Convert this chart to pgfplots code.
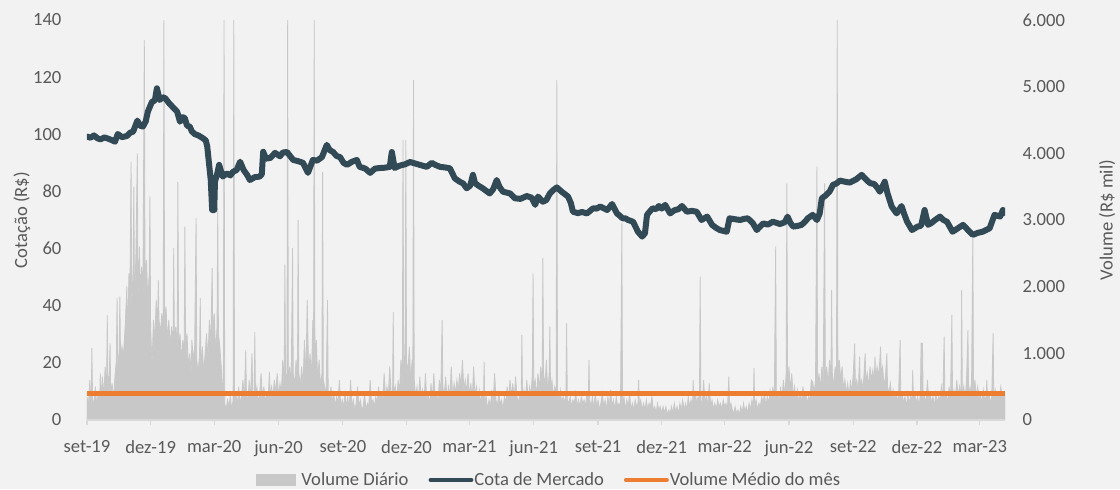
\documentclass[border=0pt]{standalone}
\usepackage{fontspec}
\setmainfont{Carlito}
\usepackage{pgfplots}
\pgfplotsset{compat=1.18}
\definecolor{bgc}{RGB}{242,242,242}
\definecolor{volgray}{RGB}{200,200,200}
\definecolor{cota}{RGB}{50,73,86}
\definecolor{orangec}{RGB}{237,125,49}
\definecolor{txt}{RGB}{89,89,89}
\definecolor{axl}{RGB}{217,217,217}
\begin{document}
\fontsize{9.3pt}{11pt}\selectfont
\begin{tikzpicture}
\fill[bgc] (-43.5pt,-34.5pt) rectangle (516.5pt,210pt);
\path[use as bounding box] (-43.5pt,-34.5pt) rectangle (516.5pt,210pt);
\pgfplotsset{
  common/.style={
    scale only axis, width=459pt, height=200pt,
    xmin=0, xmax=1313,
    font=\fontsize{9.3pt}{11pt}\selectfont,
    tick label style={text=txt, font=\fontsize{9.3pt}{11pt}\selectfont},
    label style={text=txt, font=\fontsize{9.3pt}{11pt}\selectfont},
    /pgf/number format/assume math mode=true,
    scaled y ticks=false,
    clip=true,
  }
}
% Volume axis (right)
\begin{axis}[common,
  axis x line=none,
  axis y line*=right,
  y axis line style={draw=none},
  ytick style={draw=none},
  ymin=0, ymax=6000,
  ytick={0,1000,2000,3000,4000,5000,6000},
  /pgf/number format/1000 sep={.},
  /pgf/number format/fixed,
  yticklabel style={anchor=west, xshift=5.5pt},
  ylabel={Volume (R\$ mil)},
  every axis y label/.style={at={(axis description cs:1,0.5)}, xshift=51pt, rotate=90, anchor=center, text=txt, font=\fontsize{9.3pt}{11pt}\selectfont},
]
\addplot[fill=volgray, draw=volgray, line width=0.4pt] coordinates {
(0,350) (2,200) (4,600) (6,150) (7,1080) (8,300) (10,250) (12,500) (14,200) (16,400) (18,250) (19,700)
(20,300) (22,650) (24,350) (26,800) (28,400) (29,1575) (30,450) (32,700) (33,1150) (34,350) (36,550) (38,300) (40,650)
(42,900) (43,1830) (44,800) (46,1000) (47,1850) (48,900) (50,1100) (52,950) (54,1300)
(55,1500) (57,2000) (58,1200) (60,2200) (61,1400) (63,3870) (64,1600) (66,2300) (67,3500) (68,1700) (70,2500) (72,4000) (73,1800) (75,2600) (76,1900)
(78,2300) (80,2000) (82,5700) (83,2100) (85,2400) (87,1800) (89,2200) (90,3350) (91,1400)
(93,800) (95,1500) (97,1200) (99,1800) (101,1400) (102,2100) (103,1500)
(105,1300) (107,1600) (109,1400) (110,6000) (111,1500) (113,1700) (115,1200) (117,1500) (119,1100) (121,1400) (123,1000) (124,2580) (125,1200) (127,1400) (129,1000) (130,3570) (131,1100) (133,1300) (135,900) (137,1200) (139,1000) (140,2900) (141,1100)
(143,1300) (145,800) (147,1000) (149,700) (150,1200) (152,900) (154,1100) (156,3030) (157,900) (159,700) (161,1000) (162,1830) (163,800) (165,1100) (167,700) (169,1000)
(171,1300) (173,900) (175,1500) (177,1100) (179,2280) (180,1200) (182,1600) (184,1000) (186,1400) (187,3180) (188,1300) (190,1100) (192,800) (194,400)
(195,300) (196,6000) (197,250) (199,150) (201,300) (203,200) (205,350) (207,150) (209,300) (210,6000) (211,250) (213,400) (215,200) (217,500) (219,250) (221,350)
(223,600) (225,300) (227,1050) (228,400) (230,250) (232,600) (234,300) (236,1000) (237,400) (239,300) (240,1320) (241,350) (243,500) (245,250) (247,400) (249,700) (251,300) (253,500) (255,250) (257,400) (259,300) (261,720) (262,350)
(264,500) (266,350) (268,600) (270,400) (272,700) (274,350) (276,550) (278,400) (280,900) (282,500) (283,2330) (284,600) (286,700) (287,6000) (288,600) (290,800) (292,500) (294,2580) (295,700) (297,500) (299,900) (301,600) (302,3000) (303,700) (305,500)
(307,800) (309,500) (311,1200) (313,600) (315,1800) (317,700) (319,1000) (321,600) (323,1500) (324,700) (325,6000) (326,800) (328,1200) (330,600) (332,900) (334,500) (336,700) (337,3720) (338,600)
(340,500) (342,350) (344,1800) (345,400) (347,300) (349,500) (351,250) (353,400) (355,200) (357,350) (359,250) (361,600) (363,200) (365,300) (367,200) (369,400)
(371,200) (373,350) (375,150) (377,600) (379,200) (381,300) (383,150) (385,250) (387,500) (389,200) (391,300) (393,150) (395,200) (397,400) (399,150) (401,250) (403,200) (405,600) (407,250) (409,300) (411,200) (413,350) (415,250) (417,500) (419,300) (421,400) (423,250) (425,700) (427,300) (429,500) (431,350) (433,800)
(435,400) (437,300) (438,1620) (439,350) (441,500) (443,300) (445,600) (447,400) (449,900) (451,500) (452,4200) (453,800) (455,1000) (456,4200) (457,900) (459,700) (461,1100) (463,600) (465,900) (466,500) (467,5100) (468,600)
(470,350) (472,500) (474,250) (476,650) (478,300) (480,450) (482,250) (484,700) (486,300) (488,400) (490,200) (492,550) (494,300) (496,700) (498,350) (500,400) (502,250) (504,600) (506,400) (508,1500) (509,500) (511,350) (513,650) (515,300) (517,500) (519,350) (521,800) (523,300) (525,550) (527,400) (529,600) (531,450) (533,700) (535,500) (537,900) (539,450) (541,600) (543,400) (545,700) (547,350) (549,550) (551,300) (553,800) (555,350) (557,500) (559,300) (561,450)
(563,250) (565,400) (567,200) (568,870) (569,250) (571,350) (573,150) (575,300) (577,200) (579,450) (581,250) (583,700) (585,300) (587,200) (589,400) (591,250) (593,300) (595,150) (597,350) (599,250) (601,500) (603,300) (605,600) (607,350) (609,550) (611,300) (613,650) (615,350) (617,250) (619,400) (621,300) (622,1275) (623,300)
(625,450) (627,250) (629,600) (631,300) (633,500) (635,350) (637,700) (638,2200) (639,500) (641,600) (643,350) (645,700) (647,450) (649,800) (651,500) (652,2430) (653,700) (655,500) (657,900) (659,400) (661,700) (662,1400) (663,450) (665,600) (667,350) (669,500) (671,400) (672,5100) (673,400) (675,300) (677,450) (679,250) (681,350) (683,250) (685,400) (686,1450) (687,300) (689,250) (691,350) (693,200) (695,300) (697,250) (699,400) (701,200) (703,300) (705,200) (707,350) (709,250) (711,300) (713,200) (715,400) (717,300) (718,900) (719,300)
(721,200) (723,350) (725,150) (727,400) (729,200) (731,300) (733,150) (735,250) (737,400) (739,200) (741,300) (743,150) (745,350) (747,200) (749,450) (751,200) (753,300) (755,150) (757,350) (759,200) (761,250) (763,150) (765,2950) (766,200) (768,350) (770,150) (772,300) (774,200) (776,400) (778,150) (780,250) (782,150) (784,300) (786,200) (788,250) (789,600) (790,200) (792,300) (794,150) (796,250) (798,150) (800,300) (802,150) (804,250) (806,200) (808,350) (810,150) (812,200) (814,100) (816,250) (818,150) (820,200) (822,100) (824,200)
(826,100) (828,200) (830,80) (832,150) (834,100) (836,200) (838,100) (840,250) (842,120) (844,200) (846,100) (848,250) (850,150) (852,300) (854,150) (856,250) (858,150) (860,350) (862,200) (864,300) (866,200) (867,600) (868,250) (870,400) (872,250) (874,350) (876,300) (877,2150) (878,300)
(880,250) (882,600) (884,200) (886,400) (888,150) (890,550) (892,200) (894,300) (896,150) (898,250) (900,150) (902,300) (904,200) (906,250) (908,150) (910,300) (912,200) (914,250) (916,150) (918,650) (919,200) (921,250)
(923,150) (925,100) (927,200) (929,100) (931,150) (933,80) (935,200) (937,100) (939,250) (941,120) (943,200) (945,100) (947,250) (949,150) (951,300) (953,200) (954,780) (955,200) (957,300) (959,150) (961,250) (963,200) (965,350)
(967,250) (969,400) (971,200) (973,350) (975,250) (977,450) (979,300) (981,500) (983,250) (985,2600) (986,300) (988,400) (990,250) (992,500) (994,300) (996,600) (998,350) (1000,700) (1001,3550) (1002,500) (1004,800) (1006,450) (1008,700) (1010,350) (1012,500) (1014,300) (1016,450) (1018,250) (1020,400) (1022,250) (1024,500) (1026,300) (1028,400) (1030,250) (1032,350) (1034,300) (1036,600)
(1038,570) (1040,400) (1042,600) (1044,3800) (1045,500) (1047,700) (1049,450) (1051,800) (1053,500) (1055,3550) (1056,600) (1058,800) (1060,500) (1062,900) (1064,600) (1065,1950) (1066,700) (1068,500) (1070,800) (1072,600) (1073,6000) (1074,700) (1076,900) (1078,600) (1080,800) (1082,450) (1084,600) (1086,400) (1088,550) (1090,350) (1092,600) (1094,400) (1096,700) (1098,1150) (1099,500) (1101,600) (1103,400) (1105,950) (1106,500) (1108,600) (1110,450) (1113,1000) (1114,550) (1116,700) (1118,500) (1120,800) (1122,600) (1124,750) (1126,550) (1127,950) (1128,600) (1130,800) (1132,650) (1134,900) (1135,1100) (1136,700) (1138,800) (1140,500) (1142,650) (1144,1000) (1145,500) (1147,400) (1149,550) (1151,350) (1153,450) (1155,300)
(1157,400) (1159,250) (1161,450) (1163,1200) (1164,300) (1166,400) (1168,250) (1170,350) (1172,200) (1174,400) (1176,250) (1178,350) (1180,300) (1181,750) (1182,300) (1184,400) (1186,250) (1188,350) (1190,200) (1192,400) (1193,1150) (1195,1150) (1196,300) (1198,350) (1200,250) (1202,600) (1204,300) (1206,400) (1208,250) (1210,350) (1212,200) (1214,400) (1216,250) (1218,350) (1220,300) (1222,500) (1224,300) (1226,1250) (1227,300) (1229,400) (1231,250) (1233,500) (1235,300) (1237,1575) (1238,350) (1240,450) (1242,300) (1244,600) (1246,350) (1248,500) (1250,300) (1251,1950) (1252,350) (1254,500) (1256,300) (1258,600) (1260,1350) (1261,350) (1263,500) (1265,350) (1267,2800) (1268,400) (1270,600) (1272,350) (1274,500) (1276,300) (1278,400) (1280,250) (1282,450) (1284,300) (1286,350) (1287,600) (1288,300) (1290,400) (1292,250) (1294,350) (1296,1300) (1297,300) (1299,450) (1301,300) (1303,400) (1305,350) (1307,500) (1309,300) (1311,400) (1313,350)
} \closedcycle;
\addplot[orangec, line width=2.5pt] coordinates {(0,400) (1313,400)};
\end{axis}
% Price axis (left)
\begin{axis}[common,
  axis x line*=bottom,
  axis y line*=left,
  y axis line style={draw=none},
  ytick style={draw=none},
  x axis line style={draw=axl, line width=0.6pt},
  xtick style={draw=axl, line width=0.6pt},
  tick align=outside,
  major tick length=2.5pt,
  ymin=0, ymax=140,
  ytick={0,20,40,60,80,100,120,140},
  yticklabel style={anchor=east, xshift=-7pt},
  xtick={0,91,182,274,366,457,547,639,731,822,912,1004,1096,1187,1277},
  xticklabels={set-19,dez-19,mar-20,jun-20,set-20,dez-20,mar-21,jun-21,set-21,dez-21,mar-22,jun-22,set-22,dez-22,mar-23},
  xticklabel style={anchor=north, yshift=-4.5pt},
  ylabel={Cotação (R\$)},
  every axis y label/.style={at={(axis description cs:0,0.5)}, xshift=-32.5pt, rotate=90, anchor=center, text=txt, font=\fontsize{9.3pt}{11pt}\selectfont},
  legend style={at={(0.502,-0.15)}, anchor=center, legend columns=3, draw=none, fill=none,
    text=txt, font=\fontsize{9.3pt}{11pt}\selectfont,
    nodes={inner sep=0pt},
    /tikz/every odd column/.append style={column sep=0.5pt},
    /tikz/every even column/.append style={column sep=10pt},
    inner sep=0pt},
  legend cell align=left,
]
\addlegendimage{legend image code/.code={\fill[volgray] (0pt,-2.8pt) rectangle (19.5pt,2.8pt); \path[draw=none,fill=none] (0pt,0pt) -- (22.25pt,0pt);}}
\addlegendentry{Volume Diário}
\addplot[cota, line width=3pt, line join=round, line cap=round,
  legend image code/.code={\draw[cota, line width=1.9pt, line cap=round] (1pt,0pt) -- (21.5pt,0pt);}] coordinates {
(0,99.2) (5,98.8) (10,99.6) (15,98.6) (19,98.2) (25,98.9) (30,98.5) (36,97.9) (40,97.4) (44,100.1) (50,99.0) (57,99.4) (62,100.6) (66,100.9) (72,104.8) (76,103.0) (80,102.7) (84,104.5) (87,107.9) (93,111.4) (97,111.8) (100,116.1) (104,112.0) (108,113.0) (112,112.6) (117,111.0) (122,109.7) (129,107.9) (133,104.4) (137,106.0) (140,105.6) (143,103.0) (147,102.7) (150,101.0) (154,100.1) (160,99.5) (166,98.6) (170,97.8) (172,95.7) (174,91.0) (177,84.0) (179,73.5) (182,73.5) (183,83.4) (186,86.0) (189,89.3) (194,85.2) (200,86.3) (205,85.6) (209,86.9) (214,87.5) (219,90.4) (224,87.5) (229,85.8) (233,84.0) (240,85.0) (247,85.2) (250,86.0) (252,93.9) (256,91.5) (262,91.7) (269,93.5) (276,92.3) (280,93.6) (286,93.8) (295,91.0) (302,90.6) (309,90.0) (316,86.5) (323,91.0) (329,90.8) (336,92.0) (343,96.3) (347,94.5) (352,93.8) (357,92.4) (362,92.0) (367,90.0) (372,89.3) (379,90.4) (386,91.0) (390,88.6) (398,88.0) (405,86.5) (412,88.0) (419,88.2) (426,88.3) (433,88.6) (436,93.8) (440,88.2) (447,89.0) (455,89.5) (462,90.3) (469,89.8) (476,89.3) (486,88.6) (493,90.0) (499,89.2) (505,88.6) (512,88.4) (519,88.1) (526,84.6) (533,83.4) (538,82.8) (543,81.1) (548,82.0) (552,85.8) (555,82.9) (560,82.0) (566,81.1) (571,80.2) (576,79.3) (581,80.8) (586,84.0) (590,81.6) (595,79.9) (605,79.3) (612,77.6) (620,77.4) (629,78.4) (636,77.8) (641,75.3) (645,78.2) (652,76.4) (657,77.0) (662,79.3) (667,80.5) (672,81.4) (679,79.9) (688,78.2) (692,76.0) (695,72.9) (702,72.4) (708,72.8) (715,72.3) (724,74.1) (729,74.0) (734,74.7) (740,74.0) (744,73.5) (751,75.6) (758,72.3) (762,71.5) (766,70.6) (770,70.6) (774,70.0) (781,69.4) (788,65.9) (794,64.2) (798,65.3) (801,71.8) (805,73.0) (809,74.1) (814,73.8) (818,74.9) (822,74.0) (827,75.3) (834,72.3) (840,73.4) (846,73.8) (851,74.9) (858,72.9) (865,73.2) (872,72.9) (879,70.0) (887,71.2) (894,68.3) (900,67.2) (905,66.5) (915,65.9) (919,70.6) (926,70.3) (934,70.0) (940,70.4) (945,70.6) (952,69.0) (958,66.5) (967,68.8) (974,68.4) (981,69.4) (991,68.6) (998,69.2) (1002,71.2) (1006,69.0) (1010,67.7) (1016,67.9) (1022,68.3) (1027,69.4) (1031,70.6) (1038,71.8) (1044,70.0) (1048,72.3) (1051,77.6) (1056,78.5) (1062,79.9) (1067,82.3) (1072,82.8) (1077,83.8) (1084,83.4) (1091,83.1) (1100,84.2) (1108,85.8) (1115,84.0) (1120,82.9) (1126,82.6) (1131,81.1) (1134,79.9) (1141,83.4) (1145,79.3) (1151,74.7) (1158,72.3) (1165,74.9) (1169,72.0) (1173,69.4) (1180,66.5) (1188,67.7) (1193,68.0) (1198,73.5) (1203,68.3) (1208,69.0) (1213,70.0) (1220,71.2) (1225,70.0) (1230,69.4) (1238,65.9) (1245,67.0) (1253,68.3) (1260,66.5) (1267,64.8) (1274,65.5) (1281,65.9) (1291,67.1) (1298,71.8) (1306,71.2) (1310,73.5) (1311,72.4)
};
\addlegendentry{Cota de Mercado}
\addlegendimage{legend image code/.code={\draw[orangec, line width=1.9pt, line cap=round] (1pt,0pt) -- (21.5pt,0pt);}}
\addlegendentry{Volume Médio do mês}
\end{axis}
\end{tikzpicture}
\end{document}
